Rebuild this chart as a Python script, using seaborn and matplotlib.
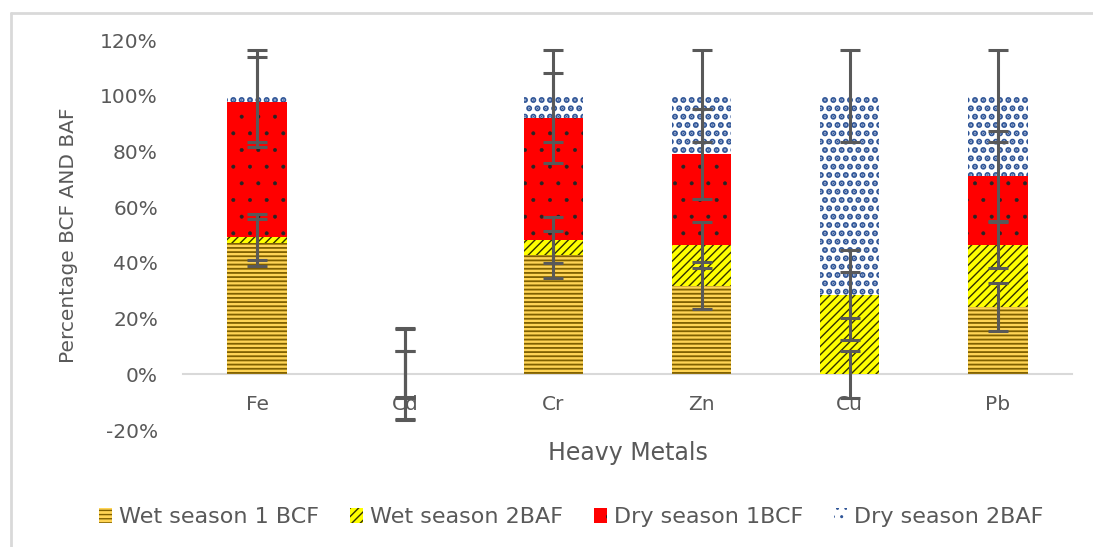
import numpy as np
import pandas as pd
import matplotlib
matplotlib.use("Agg")
import matplotlib.pyplot as plt
import seaborn as sns
from matplotlib.patches import Patch
from matplotlib.lines import Line2D
from matplotlib.ticker import PercentFormatter

# ---- data (percent) ----
metals = ["Fe", "Cd", "Cr", "Zn", "Cu", "Pb"]
wet1_bcf = [47.3, 0.0, 43.0, 31.8, 0.0, 24.2]
wet2_baf = [1.9, 0.0, 5.2, 14.7, 28.5, 22.3]
dry1_bcf = [48.6, 0.0, 43.8, 32.6, 0.0, 24.8]
dry2_baf = [2.2, 0.0, 8.0, 20.9, 71.5, 28.7]
err_wet1 = 8.5
err_wet2 = 8.3
err_dry1 = 16.1
err_dry2 = 16.5
series_names = ["Wet season 1 BCF", "Wet season 2BAF", "Dry season 1BCF", "Dry season 2BAF"]
y_ticks = [-20, 0, 20, 40, 60, 80, 100, 120]

sns.set_theme(style="white")
plt.rcParams["font.family"] = ["DejaVu Sans"]
plt.rcParams["axes.unicode_minus"] = False

df = pd.DataFrame({"metal": metals, "w1": wet1_bcf, "w2": wet2_baf, "d1": dry1_bcf, "d2": dry2_baf})
c1 = df["w1"].to_numpy()
c2 = c1 + df["w2"].to_numpy()
c3 = c2 + df["d1"].to_numpy()
c4 = c3 + df["d2"].to_numpy()
df["c1"], df["c2"], df["c3"], df["c4"] = c1, c2, c3, c4

W, H = 1093, 547
fig = plt.figure(figsize=(W / 100, H / 100), dpi=100)
ax = fig.add_axes([183 / W, 1 - 430 / H, (1072 - 183) / W, 390 / H])

styles = [
    # (column, face, hatch, hatchcolor, hatch lw)
    ("c4", "#FFFFFF", "..", "#2F5597", 3.0),
    ("c3", "#FF0000", ".", "#262626", 0.4),
    ("c2", "#FFFF00", "////", "#333300", 1.0),
    ("c1", "#FFD455", "----", "#7F6000", 1.3),
]

for col, face, hatch, hc, hlw in styles:
    with plt.rc_context({"hatch.linewidth": hlw}):
        sns.barplot(data=df, x="metal", y=col, color=face, saturation=1, width=0.4,
                    errorbar=None, hatch=hatch, edgecolor=hc, linewidth=0, ax=ax)
        for p in ax.containers[-1]:
            if hasattr(p, "set_hatch_linewidth"):
                p.set_hatch_linewidth(hlw)

# error bars at the top of every segment
xpos = np.arange(len(metals))
for cum, e in [(c1, err_wet1), (c2, err_wet2), (c3, err_dry1), (c4, err_dry2)]:
    ax.errorbar(xpos, cum, yerr=e, fmt="none", ecolor="#595959", elinewidth=2.2,
                capsize=7, capthick=2.2, zorder=6)

ax.set_ylim(-20, 120)
ax.set_xlim(-0.5, len(metals) - 0.5)
ax.set_yticks(y_ticks)
ax.yaxis.set_major_formatter(PercentFormatter(decimals=0))
for s in ["top", "right", "left"]:
    ax.spines[s].set_visible(False)
ax.spines["bottom"].set_position(("data", 0))
ax.spines["bottom"].set_color("#D9D9D9")
ax.spines["bottom"].set_linewidth(1.5)
ax.spines["bottom"].set_zorder(0.5)
ax.tick_params(axis="y", length=0, pad=18, labelsize=14.5, labelcolor="#595959")
ax.tick_params(axis="x", length=0, pad=15, labelsize=14.5, labelcolor="#595959")

ax.set_xlabel("Heavy Metals", fontsize=17, color="#595959")
ax.xaxis.set_label_coords(0.5, -0.028)
ax.set_ylabel("Percentage BCF AND BAF", fontsize=14.5, color="#595959")
ax.yaxis.set_label_coords(-0.118, 0.5)

# legend
handles = []
for (col, face, hatch, hc, hlw) in styles[::-1]:
    with plt.rc_context({"hatch.linewidth": hlw}):
        h = Patch(facecolor=face, edgecolor=hc, hatch=hatch, linewidth=0)
        if hasattr(h, "set_hatch_linewidth"):
            h.set_hatch_linewidth(hlw)
    handles.append(h)
leg = fig.legend(handles, series_names, loc="center", bbox_to_anchor=(571 / W, 1 - 517 / H),
                 ncol=4, frameon=False, fontsize=16, handlelength=0.6, handleheight=0.65,
                 handletextpad=0.3, columnspacing=1.4, labelcolor="#595959")

# chart-area border (top and left edges visible)
bx, by = 11 / W, 1 - 13 / H
fig.add_artist(Line2D([bx, 1.05], [by, by], transform=fig.transFigure, color="#D9D9D9", lw=2))
fig.add_artist(Line2D([bx, bx], [-0.05, by], transform=fig.transFigure, color="#D9D9D9", lw=2))

fig.savefig("out.png", dpi=100)
